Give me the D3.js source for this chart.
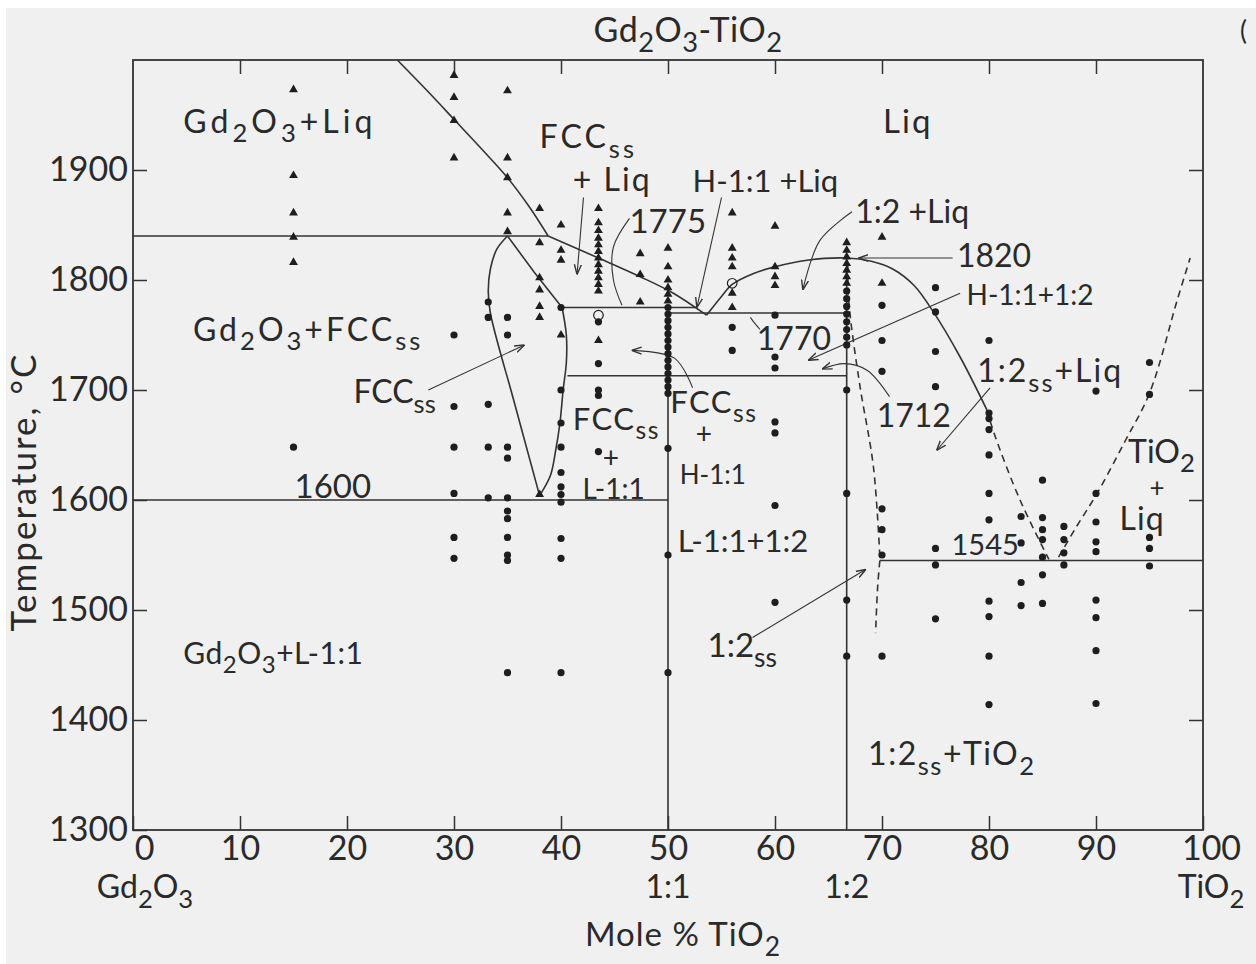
<!DOCTYPE html>
<html>
<head>
<meta charset="utf-8">
<script src="https://cdn.jsdelivr.net/npm/d3@7"></script>
<style>
  body { margin: 0; background: #fff; }
  svg text { fill: #2a2a2a; font-family: Lato, "DejaVu Sans", sans-serif; }
</style>
</head>
<body>
<div id="chart"></div>
<script>
// ---- data (x = mole % TiO2, T = deg C) ----
const xTicks = [0, 10, 20, 30, 40, 50, 60, 70, 80, 90, 100];
const yTicks = [1300, 1400, 1500, 1600, 1700, 1800, 1900];

const triangleMarks = [
  [15, 1973], [15, 1895], [15, 1861], [15, 1839], [15, 1816],
  [30, 1986], [30, 1966], [30, 1945], [30, 1911],
  [35, 1972], [35, 1911], [35, 1893], [35, 1861], [35, 1844],
  [38, 1865], [38, 1834], [38, 1802], [38, 1791], [38, 1776], [38, 1766], [38, 1605],
  [40, 1850], [40, 1827], [40, 1818], [40, 1750],
  [43.5, 1865], [43.5, 1852], [43.5, 1845], [43.5, 1838], [43.5, 1832], [43.5, 1826],
  [43.5, 1820], [43.5, 1814], [43.5, 1808], [43.5, 1802], [43.5, 1796], [43.5, 1790], [43.5, 1745],
  [47.4, 1824], [47.4, 1805], [47.4, 1780],
  [50, 1829], [50, 1812], [50, 1800], [50, 1793], [50, 1787], [50, 1781],
  [56, 1861], [56, 1829], [56, 1820], [56, 1812], [56, 1788], [56, 1775],
  [60, 1849], [60, 1812], [60, 1803], [60, 1795],
  [66.7, 1834], [66.7, 1827], [66.7, 1821], [66.7, 1815], [66.7, 1809], [66.7, 1803], [66.7, 1797],
  [70, 1839], [70, 1797]
];

const circleMarks = [
  [15, 1648],
  [30, 1750], [30, 1685], [30, 1648], [30, 1606], [30, 1566], [30, 1547],
  [33.2, 1780], [33.2, 1766], [33.2, 1687], [33.2, 1648], [33.2, 1602],
  [35, 1766], [35, 1750], [35, 1648], [35, 1638], [35, 1602], [35, 1590], [35, 1583],
  [35, 1566], [35, 1550], [35, 1545], [35, 1443],
  [40, 1775], [40, 1700], [40, 1670], [40, 1648], [40, 1625], [40, 1612], [40, 1605],
  [40, 1598], [40, 1565], [40, 1547], [40, 1443],
  [43.5, 1762], [43.5, 1724], [43.5, 1700], [43.5, 1695], [43.5, 1644],
  [50, 1775], [50, 1769], [50, 1763], [50, 1757], [50, 1751], [50, 1745], [50, 1739],
  [50, 1733], [50, 1727], [50, 1721], [50, 1715], [50, 1709], [50, 1703], [50, 1697],
  [50, 1647], [50, 1550], [50, 1443],
  [56, 1757], [56, 1736],
  [60, 1768], [60, 1730], [60, 1720], [60, 1671], [60, 1661], [60, 1595], [60, 1507],
  [66.7, 1790], [66.7, 1783], [66.7, 1776], [66.7, 1769], [66.7, 1762], [66.7, 1755],
  [66.7, 1748], [66.7, 1741], [66.7, 1700], [66.7, 1606], [66.7, 1509], [66.7, 1458],
  [70, 1777], [70, 1745], [70, 1717], [70, 1592], [70, 1573], [70, 1550], [70, 1458],
  [75, 1793], [75, 1771], [75, 1735], [75, 1703], [75, 1556], [75, 1541], [75, 1492],
  [80, 1745], [80, 1679], [80, 1674], [80, 1664], [80, 1641], [80, 1606], [80, 1582],
  [80, 1508], [80, 1494], [80, 1458], [80, 1414],
  [83, 1585], [83, 1561], [83, 1525], [83, 1504],
  [85, 1618], [85, 1584], [85, 1573], [85, 1564], [85, 1548], [85, 1532], [85, 1506],
  [87, 1576], [87, 1564], [87, 1552], [87, 1541],
  [90, 1699], [90, 1606], [90, 1580], [90, 1562], [90, 1553], [90, 1509], [90, 1493], [90, 1463], [90, 1415],
  [95, 1725], [95, 1696], [95, 1566], [95, 1556], [95, 1540]
];

const openMarks = [[43.5, 1768], [56, 1797]];

// isotherms and compound lines
const straightLines = [
  [[0, 1840], [38.8, 1840]],
  [[40.1, 1775], [52.7, 1775]],
  [[50, 1770], [66.7, 1770]],
  [[40.6, 1713], [66.7, 1713]],
  [[0, 1600], [50, 1600]],
  [[69.8, 1545], [100, 1545]],
  [[50, 1770], [50, 1300]],
  [[66.7, 1820], [66.7, 1300]],
  [[35, 1840], [37.5, 1807], [40.1, 1775]]
];

// curved solid boundaries
const curvedLines = [
  [[24.7, 2000], [27.5, 1972], [30.1, 1945], [32.5, 1920], [35, 1893], [37, 1867], [38.8, 1840]],
  [[38.8, 1840], [43.5, 1820], [47.4, 1803], [50.5, 1788], [53.6, 1768]],
  [[35, 1840], [34, 1828], [33.4, 1810], [33.2, 1790], [33.4, 1770], [35.6, 1690], [38, 1604]],
  [[40.1, 1775], [40.5, 1750], [40.5, 1725], [40.2, 1700], [39.9, 1670], [39.5, 1645], [39, 1622], [38, 1604]],
  [[53.6, 1768], [55, 1785], [56, 1796], [58, 1806], [60, 1812], [63, 1818], [66.7, 1820],
   [69, 1817], [71, 1810], [73, 1795], [74.8, 1771], [77.3, 1730], [79.8, 1682]]
];

// dashed (estimated) boundaries
const dashedLines = [
  [[79.8, 1682], [80.5, 1660], [82.9, 1600], [85.6, 1546]],
  [[86.5, 1548], [88, 1573], [90.1, 1606], [92.8, 1655], [95, 1697], [97.6, 1782], [98.8, 1820]],
  [[66.8, 1815], [66.9, 1780], [67.9, 1706], [69.2, 1630], [69.8, 1548]],
  [[69.8, 1545], [69.6, 1522], [69.4, 1479]]
];

// annotation leaders: with head at last point, and plain
const arrowLeaders = [
  [[42.1, 1875], [41.5, 1805]],
  [[55.0, 1875], [52.7, 1775]],
  [[67.2, 1862], [64.2, 1836], [62.6, 1791]],
  [[76.6, 1820], [67.8, 1820]],
  [[77.3, 1788], [63.1, 1727]],
  [[70.7, 1694], [68.6, 1718], [66.5, 1724], [64.4, 1719]],
  [[27.6, 1700], [36.6, 1741]],
  [[80.1, 1702], [75.1, 1645]],
  [[52.3, 1702], [50.6, 1729], [46.6, 1736]],
  [[57.9, 1475], [68.5, 1537]]
];
const plainLeaders = [
  [[46.4, 1856], [44.9, 1830], [44.9, 1800], [45.7, 1777]],
  [[58.6, 1755], [58.0, 1762], [57.7, 1766]]
];

// region and isotherm labels: text, left x, baseline T, font size, letter spacing
const labels = [
  ["Gd_{2}O_{3}+Liq", 4.7, 1934, 32, 4],
  ["FCC_{ss}", 38.0, 1920, 32, 3],
  ["+ Liq", 41.1, 1881, 32, 2],
  ["1775", 46.4, 1843, 33, 0],
  ["H-1:1 +Liq", 52.3, 1880, 31, 0],
  ["Liq", 70.1, 1934, 33, 2],
  ["1:2 +Liq", 67.5, 1852, 32, 0],
  ["1820", 77.0, 1812, 32, 0],
  ["H-1:1+1:2", 77.9, 1777, 28, 0],
  ["1770", 58.3, 1736, 32, 0],
  ["Gd_{2}O_{3}+FCC_{ss}", 5.6, 1745, 32, 3],
  ["FCC_{ss}", 20.6, 1688, 32, 0],
  ["1712", 69.5, 1666, 32, 0],
  ["1:2_{ss}+Liq", 78.9, 1707, 32, 2],
  ["FCC_{ss}", 41.1, 1664, 31, 1.5],
  ["+", 43.9, 1629, 28, 0],
  ["L-1:1", 42.0, 1601, 28, 0],
  ["FCC_{ss}", 50.2, 1679, 31, 1.5],
  ["+", 52.6, 1651, 28, 0],
  ["H-1:1", 51.1, 1615, 26, 0],
  ["1600", 15.1, 1602, 33, 0],
  ["L-1:1+1:2", 50.9, 1553, 31, 0],
  ["1545", 76.5, 1550, 29, 0],
  ["TiO_{2}", 93.0, 1634, 32, 0],
  ["+", 95.0, 1603, 26, 0],
  ["Liq", 92.2, 1573, 32, 1],
  ["1:2_{ss}", 53.7, 1457, 33, 0],
  ["Gd_{2}O_{3}+L-1:1", 4.7, 1451, 30, 0.5],
  ["1:2_{ss}+TiO_{2}", 68.7, 1359, 32, 1.5]
];

// composition labels under the axis
const compLabels = [
  ["Gd_{2}O_{3}", 0],
  ["1:1", 50],
  ["1:2", 66.7],
  ["TiO_{2}", 100]
];

// ---- drawing ----
const W = 1256, H = 964;
const ink = "#333";

const x = d3.scaleLinear().domain([0, 100]).range([133, 1203]);
const y = d3.scaleLinear().domain([1300, 2000]).range([830, 60]);

const svg = d3.select("#chart").append("svg")
  .attr("width", W).attr("height", H);

svg.append("rect").attr("x", 6).attr("y", 8)
  .attr("width", W - 6).attr("height", H - 8).attr("fill", "#f0f0f0");

const defs = svg.append("defs");
defs.append("marker")
  .attr("id", "head")
  .attr("viewBox", "0 0 10 10")
  .attr("refX", 10).attr("refY", 5)
  .attr("markerWidth", 10).attr("markerHeight", 10)
  .attr("markerUnits", "userSpaceOnUse")
  .attr("orient", "auto")
  .append("path")
  .attr("d", "M0,1.5 L10,5 L0,8.5")
  .attr("fill", "none").attr("stroke", ink).attr("stroke-width", 1.4);

// text with _{sub} notation
function richText(sel, str, px, py, size, anchor, spacing) {
  const t = sel.append("text")
    .attr("x", px).attr("y", py)
    .attr("text-anchor", anchor || "start")
    .style("font-size", size + "px")
    .style("letter-spacing", (spacing || 0) + "px");
  const shift = size * 0.3;
  let back = 0;
  str.split(/(_\{[^}]*\})/).filter(s => s.length).forEach(p => {
    if (p.startsWith("_{")) {
      t.append("tspan").text(p.slice(2, -1))
        .attr("dy", shift).style("font-size", (size * 0.8) + "px");
      back = -shift;
    } else {
      t.append("tspan").text(p).attr("dy", back);
      back = 0;
    }
  });
  return t;
}

// axes (ticks pointing inward)
function styleAxis(g) {
  g.selectAll(".domain").remove();
  g.selectAll(".tick line").attr("stroke", ink).attr("stroke-width", 1.5);
  g.selectAll(".tick text").style("font-size", "34px").attr("fill", "#2a2a2a");
}

const gBottom = svg.append("g").attr("transform", `translate(0,${y(1300)})`)
  .call(d3.axisBottom(x).tickValues(xTicks).tickSizeInner(-14).tickSizeOuter(0).tickPadding(6))
  .call(styleAxis);
gBottom.selectAll(".tick text").filter(d => d === 0).attr("dx", 11);
gBottom.selectAll(".tick text").filter(d => d === 100).attr("dx", 8);

svg.append("g").attr("transform", `translate(0,${y(2000)})`)
  .call(d3.axisTop(x).tickValues(xTicks.slice(1, -1)).tickSizeInner(-14).tickSizeOuter(0).tickFormat(""))
  .call(styleAxis);

svg.append("g").attr("transform", `translate(${x(0)},0)`)
  .call(d3.axisLeft(y).tickValues(yTicks).tickFormat(d3.format("d"))
    .tickSizeInner(-14).tickSizeOuter(0).tickPadding(5))
  .call(styleAxis);

svg.append("g").attr("transform", `translate(${x(100)},0)`)
  .call(d3.axisRight(y).tickValues(yTicks.slice(1)).tickSizeInner(-14).tickSizeOuter(0).tickFormat(""))
  .call(styleAxis);

svg.append("rect")
  .attr("x", x(0)).attr("y", y(2000))
  .attr("width", x(100) - x(0)).attr("height", y(1300) - y(2000))
  .attr("fill", "none").attr("stroke", ink).attr("stroke-width", 1.8);

// boundaries
const plot = svg.append("g");
const straight = d3.line().x(d => x(d[0])).y(d => y(d[1]));
const smooth = d3.line().x(d => x(d[0])).y(d => y(d[1])).curve(d3.curveCatmullRom.alpha(0.5));

plot.selectAll(".straight").data(straightLines).enter().append("path")
  .attr("d", straight).attr("fill", "none").attr("stroke", ink).attr("stroke-width", 1.6);

plot.selectAll(".curved").data(curvedLines).enter().append("path")
  .attr("d", smooth).attr("fill", "none").attr("stroke", ink).attr("stroke-width", 1.6);

plot.selectAll(".dashed").data(dashedLines).enter().append("path")
  .attr("d", smooth).attr("fill", "none").attr("stroke", ink)
  .attr("stroke-width", 1.6).attr("stroke-dasharray", "7,5");

plot.selectAll(".arrow").data(arrowLeaders).enter().append("path")
  .attr("d", smooth).attr("fill", "none").attr("stroke", ink)
  .attr("stroke-width", 1.1).attr("marker-end", "url(#head)");

plot.selectAll(".leader").data(plainLeaders).enter().append("path")
  .attr("d", smooth).attr("fill", "none").attr("stroke", ink).attr("stroke-width", 1.1);

// experimental points
const tri = d3.symbol().type(d3.symbolTriangle).size(34);
plot.selectAll(".tri").data(triangleMarks).enter().append("path")
  .attr("d", tri)
  .attr("transform", d => `translate(${x(d[0])},${y(d[1])})`)
  .attr("fill", "#1e1e1e");

plot.selectAll(".dot").data(circleMarks).enter().append("circle")
  .attr("cx", d => x(d[0])).attr("cy", d => y(d[1])).attr("r", 3.6)
  .attr("fill", "#1e1e1e");

plot.selectAll(".open").data(openMarks).enter().append("circle")
  .attr("cx", d => x(d[0])).attr("cy", d => y(d[1])).attr("r", 4.8)
  .attr("fill", "none").attr("stroke", "#1e1e1e").attr("stroke-width", 1.2);

// labels
const lab = svg.append("g");
labels.forEach(l => richText(lab, l[0], x(l[1]), y(l[2]), l[3], "start", l[4]));

compLabels.forEach(c => {
  const t = richText(lab, c[0], x(c[1]), 898, 32, "middle", 0);
  if (c[1] === 0) t.attr("dx", 12);
  if (c[1] === 100) t.attr("dx", 8);
});

richText(lab, "Mole % TiO_{2}", 683, 946, 33, "middle", 1);
richText(lab, "Gd_{2}O_{3}-TiO_{2}", 688, 42, 34, "middle", 0.5);

lab.append("text")
  .attr("transform", "translate(36,492) rotate(-90)")
  .attr("text-anchor", "middle")
  .style("font-size", "35px")
  .style("letter-spacing", "2px")
  .text("Temperature, °C");

lab.append("text").attr("x", 1240).attr("y", 40)
  .style("font-size", "26px").text("(");
</script>
</body>
</html>
